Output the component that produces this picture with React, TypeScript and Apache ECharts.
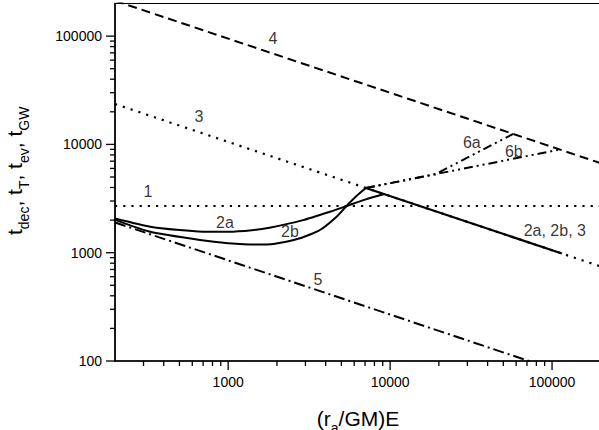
import React, { useEffect, useRef } from 'react';
import * as echarts from 'echarts';

// Axis ranges (log scales)
const xRange = [200, 200000];
const yRange = [100, 200000];

// Tick values
const xTicksMajor = [1000, 10000, 100000];
const xTicksMinor = [300, 400, 500, 600, 700, 800, 900, 2000, 3000, 4000, 5000, 6000, 7000, 8000, 9000, 20000, 30000, 40000, 50000, 60000, 70000, 80000, 90000];
const yTicksMajor = [100, 1000, 10000, 100000];
const yTicksMinor = [200, 300, 400, 500, 600, 700, 800, 900, 2000, 3000, 4000, 5000, 6000, 7000, 8000, 9000, 20000, 30000, 40000, 50000, 60000, 70000, 80000, 90000];

// Series data [x, y]
const line1 = [[200, 2700], [200000, 2700]];
const line3 = [[200, 23600], [200000, 745]];
const line4 = [[200, 212000], [200000, 6700]];
const line5 = [[200, 1900], [200000, 60]];
const curve2a = [[200, 2070], [330, 1740], [500, 1620], [700, 1565], [1000, 1560], [1400, 1610], [1800, 1700], [2900, 2000], [4250, 2390], [5400, 2700], [7000, 3090], [9200, 3480]];
const curve2b = [[200, 2010], [330, 1560], [670, 1310], [1000, 1225], [1500, 1190], [1900, 1205], [2770, 1358], [3690, 1620], [4670, 2150], [5380, 2700], [6170, 3320], [7080, 3960]];
const merged = [[7080, 3960], [115000, 982]];
const line6a = [[7080, 3960], [19000, 5300], [57500, 12500]];
const line6b = [[7080, 3960], [111700, 8970]];

// Curve annotations: [label, x, y]
const annotations: [string, number, number][] = [
  ['1', 320, 3636],
  ['2a', 955, 1920],
  ['2b', 2407, 1553],
  ['3', 660, 18290],
  ['4', 1888, 96000],
  ['5', 3580, 560],
  ['6a', 31960, 10520],
  ['6b', 58080, 8510],
  ['2a, 2b, 3', 104000, 1620],
];

const FONT = 'Liberation Sans, Arial, Helvetica, sans-serif';

export default function App() {
  const ref = useRef<HTMLDivElement>(null);
  useEffect(() => {
    const chart = echarts.init(ref.current!, null, { renderer: 'svg' });
    const lineSeries = (data: number[][], type: any, width = 2, smooth: any = false) => ({
      type: 'line',
      data,
      showSymbol: false,
      symbol: 'none',
      smooth,
      silent: true,
      lineStyle: { color: '#000', width, type },
      z: 3,
    });
    const rich = {
      m: { fontSize: 21, fontFamily: FONT, lineHeight: 21, verticalAlign: 'top', fill: '#000' },
      s: { fontSize: 14, fontFamily: FONT, padding: [13, 0, 0, 0], verticalAlign: 'top', fill: '#000' },
    };
    const isDecade = (v: number) => Math.abs(Math.log10(v) - Math.round(Math.log10(v))) < 1e-6;
    const option: any = {
      animation: false,
      backgroundColor: '#fff',
      grid: {
        left: 115,
        top: 3.5,
        right: 9.2,
        bottom: 69,
        show: true,
        borderColor: '#000',
        borderWidth: 1.2,
        backgroundColor: 'transparent',
        containLabel: false,
        outerBoundsMode: 'none',
      },
      xAxis: {
        type: 'log',
        logBase: 10,
        min: xRange[0],
        max: xRange[1],
        axisLine: { show: true, onZero: false, lineStyle: { color: '#000', width: 1.5 } },
        axisTick: { show: false },
        splitLine: { show: false },
        minorTick: { show: false },
        axisLabel: {
          color: '#000',
          fontSize: 14,
          fontFamily: FONT,
          margin: 14,
          formatter: (v: number) => (isDecade(v) ? String(Math.round(v)) : ''),
        },
      },
      yAxis: {
        type: 'log',
        logBase: 10,
        min: yRange[0],
        max: yRange[1],
        axisLine: { show: true, onZero: false, lineStyle: { color: '#000', width: 1.5 } },
        axisTick: { show: false },
        splitLine: { show: false },
        minorTick: { show: false },
        axisLabel: {
          color: '#000',
          fontSize: 14,
          fontFamily: FONT,
          margin: 13,
          formatter: (v: number) => (isDecade(v) ? String(Math.round(v)) : ''),
        },
      },
      series: [
        lineSeries(line1, [2.2, 6], 2.2),
        lineSeries(line3, [2.2, 6], 2.2),
        lineSeries(line4, [9, 5], 2),
        lineSeries(line5, [11, 4, 2, 4], 2),
        lineSeries(line6a, [9, 4, 2, 4, 2, 4], 2),
        lineSeries(line6b, [9, 4, 2, 4, 2, 4], 2),
        lineSeries(curve2a, 'solid', 2, 0.2),
        lineSeries(curve2b, 'solid', 2, 0.2),
        lineSeries(merged, 'solid', 2.2),
        {
          type: 'scatter',
          silent: true,
          symbol: 'circle',
          symbolSize: 1,
          itemStyle: { color: 'rgba(0,0,0,0)' },
          data: annotations.map(([name, x, y]) => ({ name, value: [x, y] })),
          label: {
            show: true,
            position: 'inside',
            formatter: '{b}',
            color: '#000',
            fontSize: 16,
            fontFamily: FONT,
          },
          z: 5,
        },
        {
          type: 'custom',
          silent: true,
          clip: false,
          data: [
            ...xTicksMajor.map((v) => [v, yRange[0], 9]),
            ...xTicksMinor.map((v) => [v, yRange[0], 5]),
          ],
          encode: { x: 0, y: 1 },
          renderItem: (params: any, api: any) => {
            const p = api.coord([api.value(0), api.value(1)]);
            return {
              type: 'line',
              shape: { x1: p[0], y1: p[1], x2: p[0], y2: p[1] + api.value(2) },
              style: { stroke: '#000', lineWidth: 1.3 },
            };
          },
          z: 6,
        },
        {
          type: 'custom',
          silent: true,
          clip: false,
          data: [
            ...yTicksMajor.map((v) => [xRange[0], v, 9]),
            ...yTicksMinor.map((v) => [xRange[0], v, 5]),
          ],
          encode: { x: 0, y: 1 },
          renderItem: (params: any, api: any) => {
            const p = api.coord([api.value(0), api.value(1)]);
            return {
              type: 'line',
              shape: { x1: p[0], y1: p[1], x2: p[0] - api.value(2), y2: p[1] },
              style: { stroke: '#000', lineWidth: 1.3 },
            };
          },
          z: 6,
        },
      ],
      graphic: [
        {
          type: 'text',
          x: 4,
          y: 235,
          rotation: Math.PI / 2,
          silent: true,
          style: {
            text: '{m|t}{s|dec}{m|, t}{s|T}{m|, t}{s|ev}{m|, t}{s|GW}',
            rich,
            align: 'left',
            verticalAlign: 'top',
            fill: '#000',
          },
        },
        {
          type: 'text',
          x: 358,
          y: 407.5,
          silent: true,
          style: {
            text: '{m|(r}{s|a}{m|/GM)E}',
            rich,
            align: 'center',
            verticalAlign: 'top',
            fill: '#000',
          },
        },
      ],
    };
    chart.setOption(option);
    return () => chart.dispose();
  }, []);
  return (
    <div style={{ position: 'fixed', left: 0, top: 0, width: 599, height: 430, overflow: 'hidden', background: '#fff' }}>
      <div ref={ref} style={{ width: 610, height: 430 }} />
    </div>
  );
}
